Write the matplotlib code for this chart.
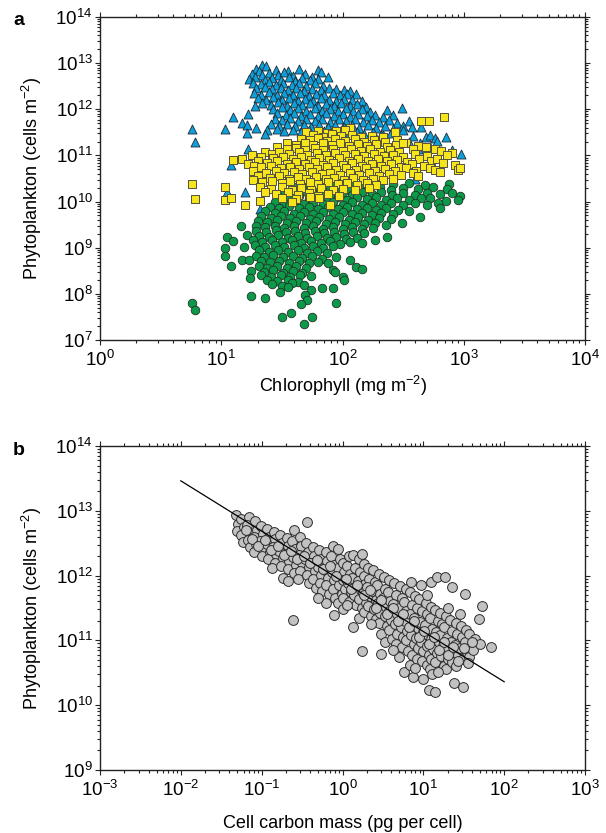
import numpy as np
import matplotlib
matplotlib.use("Agg")
import matplotlib.pyplot as plt
from matplotlib.ticker import LogLocator, LogFormatterSciNotation, NullFormatter

plt.rcParams['font.family'] = ['Liberation Sans', 'DejaVu Sans']
plt.rcParams['mathtext.fontset'] = 'custom'
plt.rcParams['mathtext.rm'] = 'Liberation Sans'
plt.rcParams['mathtext.it'] = 'Liberation Sans:italic'
plt.rcParams['mathtext.bf'] = 'Liberation Sans:bold'

# ---------------------------------------------------------------
# Data, as (log10 x, log10 y) pairs
# ---------------------------------------------------------------
# panel a, triangles: (log10 chlorophyll, log10 cells)
blue_pts = [
    (1.34, 12.96), (1.37, 12.94), (1.29, 12.87), (1.31, 12.83), (1.45, 12.86), (1.55, 12.84),
    (1.64, 12.88), (1.80, 12.85), (1.82, 12.80),
    (1.25, 12.76), (1.34, 12.74), (1.39, 12.79), (1.47, 12.75), (1.52, 12.80), (1.59, 12.73),
    (1.69, 12.77), (1.75, 12.71), (1.88, 12.70),
    (1.23, 12.66), (1.28, 12.69), (1.36, 12.63), (1.42, 12.68), (1.49, 12.64), (1.56, 12.70),
    (1.61, 12.62), (1.67, 12.67), (1.73, 12.63), (1.80, 12.66),
    (1.26, 12.57), (1.33, 12.54), (1.39, 12.59), (1.45, 12.52), (1.51, 12.58), (1.58, 12.53),
    (1.64, 12.57), (1.70, 12.51), (1.77, 12.56), (1.84, 12.50),
    (1.29, 12.46), (1.36, 12.49), (1.42, 12.43), (1.49, 12.47), (1.55, 12.41), (1.62, 12.46),
    (1.68, 12.40), (1.75, 12.45), (1.82, 12.42), (1.89, 12.47), (1.95, 12.45), (2.01, 12.41),
    (2.06, 12.39),
    (1.27, 12.36), (1.33, 12.32), (1.39, 12.37), (1.46, 12.31), (1.52, 12.36), (1.59, 12.30),
    (1.65, 12.35), (1.72, 12.29), (1.78, 12.34), (1.85, 12.30), (1.92, 12.36), (1.98, 12.31),
    (2.04, 12.33), (2.11, 12.34),
    (1.30, 12.25), (1.37, 12.21), (1.43, 12.26), (1.50, 12.20), (1.56, 12.24), (1.63, 12.18),
    (1.69, 12.23), (1.76, 12.19), (1.82, 12.25), (1.89, 12.21), (1.95, 12.17), (2.01, 12.23),
    (2.08, 12.20), (2.16, 12.18),
    (1.34, 12.14), (1.41, 12.10), (1.47, 12.15), (1.54, 12.08), (1.60, 12.13), (1.67, 12.09),
    (1.73, 12.14), (1.80, 12.07), (1.86, 12.12), (1.93, 12.08), (1.99, 12.13), (2.06, 12.07),
    (2.12, 12.11), (2.19, 12.06),
    (1.28, 12.07), (1.43, 12.01), (1.50, 12.04), (1.57, 11.98), (1.63, 12.03), (1.70, 11.97),
    (1.77, 12.02), (1.83, 11.96), (1.90, 12.01), (1.96, 11.97), (2.03, 12.02), (2.09, 11.96),
    (2.16, 12.00), (2.23, 11.95), (2.37, 11.98), (2.49, 12.02),
    (1.22, 11.90), (1.46, 11.91), (1.53, 11.87), (1.60, 11.92), (1.66, 11.86), (1.73, 11.90),
    (1.80, 11.85), (1.86, 11.91), (1.93, 11.86), (2.00, 11.90), (2.06, 11.84), (2.13, 11.89),
    (2.20, 11.85), (2.27, 11.88), (2.33, 11.83), (2.42, 11.87),
    (1.10, 11.84), (1.44, 11.80), (1.50, 11.76), (1.57, 11.81), (1.63, 11.75), (1.70, 11.80),
    (1.77, 11.74), (1.83, 11.79), (1.90, 11.73), (1.97, 11.78), (2.03, 11.74), (2.10, 11.79),
    (2.17, 11.73), (2.24, 11.77), (2.30, 11.72), (2.38, 11.76), (2.45, 11.71), (2.55, 11.74),
    (1.17, 11.70), (1.21, 11.66), (1.41, 11.68), (1.48, 11.64), (1.54, 11.69), (1.61, 11.63),
    (1.68, 11.67), (1.74, 11.62), (1.81, 11.66), (1.88, 11.61), (1.94, 11.67), (2.01, 11.62),
    (2.08, 11.66), (2.14, 11.60), (2.21, 11.65), (2.28, 11.59), (2.35, 11.64), (2.42, 11.58),
    (2.50, 11.63), (2.57, 11.62), (2.65, 11.62),
    (0.76, 11.58), (1.03, 11.58), (1.29, 11.60), (1.38, 11.55), (1.46, 11.58), (1.52, 11.52),
    (1.59, 11.56), (1.66, 11.50), (1.72, 11.55), (1.79, 11.49), (1.85, 11.53), (1.92, 11.48),
    (1.98, 11.52), (2.05, 11.47), (2.12, 11.51), (2.18, 11.46), (2.25, 11.50), (2.32, 11.45),
    (2.40, 11.49), (2.50, 11.55),
    (1.21, 11.48), (1.36, 11.46), (2.33, 11.44), (2.46, 11.40), (2.58, 11.43), (2.69, 11.40),
    (2.72, 11.44), (2.76, 11.38), (2.85, 11.41),
    (0.785, 11.29), (2.55, 11.30), (2.64, 11.26), (2.78, 11.31), (1.22, 11.15), (2.62, 11.15),
    (2.72, 11.18), (2.975, 11.04), (2.90, 11.12),
    (1.08, 10.79), (1.045, 10.21), (1.195, 10.21), (1.47, 10.14), (1.32, 9.84),
    (2.30, 10.55), (2.45, 10.62), (2.60, 10.48),
]

# panel a, squares
yellow_pts = [
    (2.84, 11.84), (2.645, 11.74), (2.71, 11.74), (2.06, 11.60), (2.43, 11.51),
    (1.70, 11.51), (1.80, 11.54), (1.87, 11.49), (1.95, 11.53), (2.02, 11.56),
    (1.76, 11.44), (1.84, 11.41), (1.91, 11.46), (1.99, 11.42), (2.08, 11.45), (2.15, 11.40),
    (2.24, 11.43), (2.33, 11.39),
    (1.66, 11.36), (1.73, 11.33), (1.80, 11.37), (1.87, 11.32), (1.94, 11.36), (2.02, 11.31),
    (2.10, 11.35), (2.18, 11.30), (2.26, 11.34), (2.35, 11.29), (2.45, 11.33), (2.52, 11.27),
    (1.54, 11.26), (1.62, 11.22), (1.69, 11.27), (1.76, 11.23), (1.84, 11.28), (1.91, 11.22),
    (1.98, 11.26), (2.05, 11.21), (2.13, 11.25), (2.20, 11.20), (2.28, 11.24), (2.37, 11.19),
    (2.44, 11.23), (2.50, 11.28), (2.62, 11.21), (2.69, 11.19),
    (1.46, 11.18), (1.54, 11.14), (1.62, 11.17), (1.69, 11.12), (1.77, 11.16), (1.84, 11.11),
    (1.92, 11.15), (2.00, 11.10), (2.07, 11.14), (2.15, 11.09), (2.23, 11.13), (2.31, 11.08),
    (2.39, 11.12), (2.47, 11.07), (2.58, 11.13), (2.76, 11.14), (2.81, 11.10), (2.90, 11.06),
    (1.36, 11.08), (1.42, 11.04), (1.48, 11.08), (1.56, 11.03), (1.64, 11.07), (1.71, 11.02),
    (1.79, 11.06), (1.86, 11.01), (1.94, 11.05), (2.02, 11.00), (2.10, 11.04), (2.18, 10.99),
    (2.26, 11.03), (2.34, 10.98), (2.42, 11.02), (2.50, 10.97), (2.60, 11.03), (2.70, 10.99),
    (2.86, 11.00),
    (1.25, 11.00), (1.33, 10.96), (1.43, 10.94), (1.51, 10.97), (1.59, 10.92), (1.66, 10.96),
    (1.74, 10.91), (1.81, 10.95), (1.89, 10.90), (1.97, 10.94), (2.05, 10.89), (2.13, 10.93),
    (2.21, 10.88), (2.29, 10.92), (2.37, 10.87), (2.45, 10.91), (2.53, 10.86), (2.63, 10.92),
    (2.73, 10.88), (2.78, 10.93),
    (1.10, 10.90), (1.17, 10.93), (1.30, 10.88), (1.38, 10.84), (1.46, 10.87), (1.54, 10.82),
    (1.62, 10.86), (1.69, 10.81), (1.77, 10.85), (1.84, 10.80), (1.92, 10.84), (2.00, 10.79),
    (2.08, 10.83), (2.16, 10.78), (2.24, 10.82), (2.32, 10.77), (2.40, 10.81), (2.48, 10.76),
    (2.57, 10.82), (2.67, 10.78), (2.83, 10.84), (2.93, 10.80),
    (1.22, 10.82), (1.27, 10.78), (1.33, 10.74), (1.41, 10.77), (1.49, 10.72), (1.57, 10.76),
    (1.64, 10.71), (1.72, 10.75), (1.79, 10.70), (1.87, 10.74), (1.95, 10.69), (2.03, 10.73),
    (2.11, 10.68), (2.19, 10.72), (2.27, 10.67), (2.35, 10.71), (2.43, 10.66), (2.52, 10.72),
    (2.61, 10.67), (2.72, 10.73), (2.76, 10.69),
    (1.26, 10.66), (1.37, 10.63), (1.45, 10.66), (1.52, 10.61), (1.60, 10.65), (1.67, 10.60),
    (1.75, 10.64), (1.83, 10.59), (1.90, 10.63), (1.98, 10.58), (2.06, 10.62), (2.14, 10.57),
    (2.22, 10.61), (2.30, 10.56), (2.38, 10.60), (2.48, 10.58), (2.58, 10.62), (2.80, 10.65),
    (2.95, 10.68), (2.97, 10.72),
    (1.30, 10.55), (1.40, 10.52), (1.48, 10.55), (1.56, 10.50), (1.63, 10.54), (1.70, 10.49),
    (1.78, 10.53), (1.86, 10.48), (1.93, 10.52), (2.01, 10.47), (2.09, 10.51), (2.17, 10.46),
    (2.25, 10.50), (2.33, 10.46), (2.42, 10.50), (2.62, 10.55),
    (1.26, 10.46), (1.34, 10.42), (1.42, 10.45), (1.50, 10.40), (1.57, 10.44), (1.65, 10.39),
    (1.73, 10.43), (1.80, 10.38), (1.88, 10.42), (1.96, 10.37), (2.04, 10.41), (2.12, 10.36),
    (2.20, 10.40), (2.28, 10.36),
    (0.76, 10.38), (1.03, 10.32), (1.32, 10.32), (1.41, 10.28), (1.50, 10.31), (1.58, 10.26),
    (1.66, 10.30), (1.74, 10.25), (1.82, 10.29), (1.92, 10.24), (2.00, 10.28), (2.10, 10.25),
    (2.22, 10.30),
    (1.36, 10.20), (1.45, 10.17), (1.55, 10.20), (1.63, 10.14), (1.72, 10.18), (1.80, 10.12),
    (1.88, 10.16), (1.97, 10.13),
    (1.50, 10.08), (1.62, 10.05), (1.73, 10.09), (1.81, 10.07),
    (0.785, 10.05), (1.035, 10.03), (1.08, 10.07), (1.32, 10.01), (1.58, 10.00), (1.90, 9.93),
    (1.195, 9.92),
]

# panel a, circles
green_pts = [
    (1.70, 10.40), (1.82, 10.42), (1.93, 10.38), (2.05, 10.41), (2.18, 10.37), (2.30, 10.42),
    (2.42, 10.38), (2.55, 10.41), (2.68, 10.36), (2.88, 10.38),
    (1.62, 10.31), (1.72, 10.28), (1.81, 10.32), (1.90, 10.27), (1.98, 10.31), (2.06, 10.26),
    (2.14, 10.32), (2.22, 10.27), (2.31, 10.31), (2.40, 10.26), (2.50, 10.30), (2.62, 10.27),
    (2.75, 10.31), (2.86, 10.27),
    (1.52, 10.21), (1.60, 10.18), (1.68, 10.22), (1.76, 10.17), (1.84, 10.21), (1.92, 10.16),
    (2.00, 10.20), (2.08, 10.15), (2.16, 10.21), (2.24, 10.16), (2.32, 10.20), (2.41, 10.15),
    (2.50, 10.19), (2.60, 10.14), (2.70, 10.19), (2.80, 10.16), (2.90, 10.19),
    (1.48, 10.10), (1.56, 10.07), (1.64, 10.11), (1.72, 10.06), (1.80, 10.10), (1.88, 10.05),
    (1.96, 10.09), (2.04, 10.04), (2.12, 10.10), (2.20, 10.05), (2.28, 10.09), (2.36, 10.04),
    (2.45, 10.08), (2.55, 10.03), (2.65, 10.08), (2.72, 10.07), (2.97, 10.11), (2.955, 10.03),
    (2.85, 10.02),
    (1.44, 10.00), (1.52, 9.96), (1.60, 10.00), (1.68, 9.95), (1.76, 9.99), (1.84, 9.94),
    (1.92, 9.98), (2.00, 9.93), (2.08, 9.98), (2.16, 9.93), (2.24, 9.97), (2.32, 9.92),
    (2.40, 9.96), (2.50, 9.92), (2.60, 9.96), (2.70, 9.93), (2.79, 9.96),
    (1.40, 9.89), (1.48, 9.86), (1.56, 9.90), (1.64, 9.85), (1.72, 9.89), (1.80, 9.84),
    (1.88, 9.88), (1.96, 9.83), (2.04, 9.88), (2.12, 9.83), (2.20, 9.87), (2.28, 9.82),
    (2.36, 9.86), (2.46, 9.81), (2.55, 9.80), (2.80, 9.85),
    (1.36, 9.79), (1.44, 9.75), (1.52, 9.79), (1.60, 9.74), (1.68, 9.78), (1.76, 9.73),
    (1.84, 9.77), (1.92, 9.72), (2.00, 9.77), (2.08, 9.72), (2.16, 9.76), (2.24, 9.71),
    (2.32, 9.75), (2.42, 9.72),
    (1.33, 9.68), (1.41, 9.65), (1.49, 9.69), (1.57, 9.64), (1.65, 9.68), (1.73, 9.63),
    (1.81, 9.67), (1.89, 9.62), (1.97, 9.66), (2.05, 9.61), (2.13, 9.66), (2.21, 9.61),
    (2.30, 9.65), (2.40, 9.62), (2.64, 9.67),
    (1.30, 9.58), (1.38, 9.55), (1.46, 9.59), (1.54, 9.54), (1.62, 9.58), (1.70, 9.53),
    (1.78, 9.57), (1.86, 9.52), (1.94, 9.56), (2.02, 9.51), (2.10, 9.56), (2.18, 9.51),
    (2.27, 9.54), (2.36, 9.50), (2.49, 9.53),
    (1.29, 9.47), (1.36, 9.44), (1.44, 9.48), (1.52, 9.43), (1.60, 9.47), (1.68, 9.42),
    (1.76, 9.46), (1.84, 9.41), (1.92, 9.45), (2.00, 9.40), (2.08, 9.45), (2.16, 9.40),
    (2.25, 9.42),
    (1.16, 9.47), (1.29, 9.37), (1.37, 9.34), (1.45, 9.38), (1.53, 9.33), (1.61, 9.37),
    (1.69, 9.32), (1.77, 9.36), (1.85, 9.31), (1.93, 9.35), (2.01, 9.30), (2.09, 9.34),
    (2.18, 9.31),
    (1.21, 9.27), (1.31, 9.26), (1.39, 9.23), (1.47, 9.27), (1.55, 9.22), (1.63, 9.26),
    (1.71, 9.21), (1.79, 9.25), (1.87, 9.20), (1.95, 9.24), (2.03, 9.19), (2.12, 9.22),
    (2.27, 9.17), (2.365, 9.24),
    (1.045, 9.24), (1.10, 9.15), (1.26, 9.16), (1.34, 9.13), (1.42, 9.17), (1.50, 9.12),
    (1.58, 9.16), (1.66, 9.11), (1.74, 9.15), (1.82, 9.10), (1.90, 9.14), (1.98, 9.09),
    (2.06, 9.12), (2.16, 9.10),
    (1.03, 8.99), (1.19, 9.02), (1.28, 9.05), (1.36, 9.02), (1.44, 9.06), (1.52, 9.01),
    (1.60, 9.05), (1.68, 9.00), (1.76, 9.04), (1.84, 8.99), (1.92, 9.03),
    (1.31, 8.94), (1.39, 8.91), (1.47, 8.95), (1.55, 8.90), (1.63, 8.94), (1.71, 8.89),
    (1.79, 8.93), (1.87, 8.88), (1.95, 8.80),
    (1.03, 8.81), (1.29, 8.83), (1.35, 8.80), (1.43, 8.84), (1.51, 8.79), (1.59, 8.83),
    (1.67, 8.78), (1.75, 8.82), (1.83, 8.76),
    (1.17, 8.73), (1.23, 8.73), (2.06, 8.73), (1.33, 8.71), (1.40, 8.68), (1.48, 8.72),
    (1.56, 8.67), (1.64, 8.71), (1.72, 8.66), (1.80, 8.70),
    (1.08, 8.60), (1.31, 8.60), (1.38, 8.57), (1.46, 8.61), (1.54, 8.56), (1.62, 8.60),
    (1.70, 8.56), (1.88, 8.66), (2.11, 8.58),
    (1.245, 8.50), (1.35, 8.48), (1.43, 8.51), (1.51, 8.46), (1.59, 8.50), (1.67, 8.45),
    (1.92, 8.52), (1.94, 8.48), (2.16, 8.53),
    (1.33, 8.40), (1.41, 8.37), (1.49, 8.41), (1.57, 8.36), (1.65, 8.40), (1.74, 8.38),
    (2.00, 8.37), (2.01, 8.30),
    (1.24, 8.34), (1.38, 8.30), (1.46, 8.27), (1.55, 8.31), (1.63, 8.26),
    (1.42, 8.21), (1.50, 8.18), (1.58, 8.23), (1.68, 8.20), (1.55, 8.15), (1.83, 8.12),
    (1.92, 8.12), (1.485, 8.04), (1.74, 8.08),
    (1.245, 7.96), (1.69, 7.98), (1.36, 7.90), (1.71, 7.87), (0.76, 7.81), (1.66, 7.78),
    (1.95, 7.80), (0.785, 7.65), (1.575, 7.58), (1.50, 7.49), (1.75, 7.49), (1.68, 7.34),
]

# panel b, circles: (log10 cell carbon, log10 cells)
grey_pts = [
    (-1.32, 12.93), (-1.29, 12.80), (-1.31, 12.69),
    (-1.25, 12.88), (-1.22, 12.75), (-1.26, 12.62), (-1.23, 12.52),
    (-1.16, 12.91), (-1.18, 12.78), (-1.14, 12.66), (-1.17, 12.55), (-1.15, 12.44),
    (-1.08, 12.84), (-1.06, 12.71), (-1.10, 12.60), (-1.07, 12.49), (-1.09, 12.37),
    (-1.01, 12.76), (-0.98, 12.64), (-1.02, 12.53), (-0.99, 12.42), (-1.00, 12.30),
    (-0.93, 12.72), (-0.91, 12.59), (-0.94, 12.48), (-0.90, 12.37), (-0.92, 12.25),
    (-0.85, 12.68), (-0.83, 12.56), (-0.86, 12.44), (-0.82, 12.33), (-0.84, 12.20), (-0.87, 12.11),
    (-0.77, 12.62), (-0.75, 12.50), (-0.78, 12.38), (-0.74, 12.27), (-0.76, 12.15), (-0.73, 11.96),
    (-0.69, 12.58), (-0.67, 12.46), (-0.70, 12.33), (-0.66, 12.22), (-0.68, 12.10), (-0.675, 11.91),
    (-0.60, 12.70), (-0.62, 12.53), (-0.59, 12.41), (-0.61, 12.29), (-0.58, 12.17), (-0.60, 12.04),
    (-0.61, 11.31),
    (-0.53, 12.60), (-0.51, 12.45), (-0.54, 12.32), (-0.50, 12.19), (-0.52, 12.07), (-0.55, 11.95),
    (-0.44, 12.82), (-0.45, 12.50), (-0.43, 12.37), (-0.46, 12.25), (-0.42, 12.13), (-0.44, 12.01),
    (-0.41, 11.88),
    (-0.37, 12.44), (-0.35, 12.31), (-0.38, 12.19), (-0.34, 12.07), (-0.36, 11.94), (-0.33, 11.81),
    (-0.29, 12.40), (-0.27, 12.26), (-0.30, 12.14), (-0.26, 12.01), (-0.28, 11.89), (-0.25, 11.76),
    (-0.21, 12.36), (-0.19, 12.22), (-0.22, 12.09), (-0.18, 11.97), (-0.20, 11.85), (-0.17, 11.71),
    (-0.21, 11.57),
    (-0.12, 12.45), (-0.14, 12.31), (-0.11, 12.17), (-0.13, 12.05), (-0.10, 11.93), (-0.12, 11.79),
    (-0.09, 11.65), (-0.11, 11.39),
    (-0.05, 12.41), (-0.03, 12.26), (-0.06, 12.12), (-0.02, 11.99), (-0.04, 11.86), (-0.01, 11.72),
    (-0.05, 11.58),
    (0.00, 12.20), (0.02, 12.05), (0.00, 11.93), (0.03, 11.80), (0.01, 11.66), (0.003, 11.48),
    (0.08, 12.30), (0.06, 12.15), (0.09, 12.02), (0.07, 11.88), (0.10, 11.75), (0.08, 11.60),
    (0.13, 12.32), (0.15, 12.12), (0.12, 11.97), (0.16, 11.83), (0.14, 11.70), (0.17, 11.55),
    (0.128, 11.21),
    (0.20, 12.26), (0.22, 12.05), (0.19, 11.92), (0.23, 11.78), (0.21, 11.64), (0.24, 11.50),
    (0.20, 11.35),
    (0.24, 12.34), (0.27, 12.18), (0.26, 12.00), (0.28, 11.87), (0.25, 11.73), (0.29, 11.58),
    (0.27, 11.44), (0.24, 10.84),
    (0.31, 12.12), (0.33, 11.95), (0.30, 11.82), (0.34, 11.68), (0.32, 11.53), (0.35, 11.38),
    (0.38, 12.08), (0.40, 11.90), (0.37, 11.77), (0.41, 11.62), (0.39, 11.48), (0.42, 11.33),
    (0.45, 12.02), (0.43, 11.85), (0.46, 11.72), (0.44, 11.57), (0.47, 11.42), (0.45, 11.27),
    (0.48, 11.10),
    (0.51, 11.98), (0.53, 11.80), (0.50, 11.66), (0.54, 11.52), (0.52, 11.37), (0.55, 11.22),
    (0.52, 10.98), (0.48, 10.79),
    (0.58, 11.93), (0.56, 11.75), (0.59, 11.61), (0.57, 11.46), (0.60, 11.32), (0.58, 11.16),
    (0.61, 11.02),
    (0.64, 11.88), (0.66, 11.70), (0.63, 11.56), (0.67, 11.41), (0.65, 11.26), (0.68, 11.10),
    (0.66, 10.95),
    (0.71, 11.84), (0.73, 11.65), (0.70, 11.50), (0.74, 11.36), (0.72, 11.20), (0.75, 11.05),
    (0.73, 10.90), (0.70, 10.75),
    (0.78, 11.80), (0.76, 11.60), (0.79, 11.45), (0.77, 11.30), (0.80, 11.15), (0.78, 11.00),
    (0.81, 10.84), (0.765, 10.52),
    (0.84, 11.74), (0.86, 11.55), (0.83, 11.40), (0.87, 11.24), (0.85, 11.09), (0.88, 10.94),
    (0.86, 10.78), (0.84, 10.62),
    (0.90, 11.68), (0.92, 11.50), (0.89, 11.35), (0.93, 11.19), (0.91, 11.03), (0.94, 10.88),
    (0.92, 10.72), (0.87, 10.43),
    (0.97, 11.85), (0.95, 11.64), (0.98, 11.45), (0.96, 11.29), (0.99, 11.13), (0.97, 10.98),
    (1.00, 10.83), (0.98, 10.68),
    (1.03, 11.58), (1.05, 11.40), (1.02, 11.24), (1.06, 11.08), (1.04, 10.92), (1.07, 10.77),
    (1.05, 10.62), (1.00, 10.40),
    (1.09, 11.90), (1.10, 11.52), (1.08, 11.35), (1.11, 11.18), (1.09, 11.02), (1.12, 10.86),
    (1.10, 10.71), (1.08, 10.56), (1.07, 10.23),
    (1.17, 11.98), (1.15, 11.47), (1.18, 11.30), (1.16, 11.13), (1.19, 10.97), (1.17, 10.81),
    (1.14, 10.66), (1.11, 10.48), (1.14, 10.21),
    (1.21, 11.42), (1.23, 11.25), (1.20, 11.08), (1.24, 10.92), (1.22, 10.76), (1.25, 10.61),
    (1.27, 11.98), (1.28, 11.37), (1.26, 11.20), (1.29, 11.03), (1.27, 10.87), (1.30, 10.71),
    (1.28, 10.56),
    (1.35, 11.83), (1.33, 11.32), (1.36, 11.15), (1.34, 10.98), (1.37, 10.82), (1.35, 10.66),
    (1.40, 11.27), (1.42, 11.10), (1.39, 10.93), (1.43, 10.77), (1.41, 10.61), (1.38, 10.34),
    (1.46, 11.22), (1.48, 11.05), (1.45, 10.88), (1.49, 10.72), (1.49, 10.28),
    (1.51, 11.72), (1.53, 11.16), (1.51, 10.98), (1.54, 10.82),
    (1.57, 11.10), (1.59, 10.90), (1.56, 10.75),
    (1.64, 11.02), (1.62, 10.85),
    (1.69, 11.33), (1.72, 11.53), (1.70, 10.95), (1.84, 10.90),
    # points sitting between the stacks above
    (-1.20, 12.70), (-1.12, 12.57), (-1.04, 12.45), (-0.96, 12.55), (-0.88, 12.40),
    (-0.80, 12.45), (-0.72, 12.32), (-0.64, 12.38), (-0.56, 12.25), (-0.48, 12.30),
    (-0.40, 12.20), (-0.32, 12.24), (-0.24, 12.10), (-0.16, 12.15), (-0.08, 12.00),
    (0.04, 11.95), (0.11, 11.80), (0.18, 11.85), (0.26, 11.70), (0.34, 11.78),
    (0.41, 11.50), (0.48, 11.62), (0.55, 11.40), (0.62, 11.50), (0.69, 11.30),
    (0.75, 11.40), (0.82, 11.20), (0.88, 11.30), (0.95, 11.05), (1.01, 11.15),
    (1.07, 10.95), (1.13, 11.05), (1.19, 10.85), (1.25, 10.98), (1.31, 10.78),
    (1.37, 10.90), (1.43, 10.68), (1.50, 10.88), (1.55, 10.65), (1.60, 10.97),
    (0.62, 10.85), (0.90, 10.58), (1.18, 10.52), (0.35, 11.25), (0.05, 11.55),
    (-0.30, 11.65), (1.30, 11.50), (1.45, 11.40), (1.05, 11.70), (0.85, 11.90),
]

# regression line in panel b (end points)
fit_carbon = [1e-2, 1e2]
fit_cells = [2.9e13, 2.3e10]


def unlog(pts):
    arr = np.array(pts)
    return 10 ** arr[:, 0], 10 ** arr[:, 1]


def style_axes(ax, xlim, ylim):
    ax.set_xscale('log')
    ax.set_yscale('log')
    ax.set_xlim(*xlim)
    ax.set_ylim(*ylim)
    for axis in (ax.xaxis, ax.yaxis):
        axis.set_major_locator(LogLocator(base=10, numticks=20))
        axis.set_major_formatter(LogFormatterSciNotation())
        axis.set_minor_locator(LogLocator(base=10, subs=np.arange(2, 10), numticks=20))
        axis.set_minor_formatter(NullFormatter())
    ax.tick_params(which='both', direction='out', top=True, right=True,
                   width=0.8, color='#222222')
    ax.tick_params(which='major', length=3.8, labelsize=13.5)
    ax.tick_params(which='minor', length=2.0)
    ax.tick_params(axis='y', which='major', pad=1.5)
    ax.tick_params(axis='x', which='major', pad=3.5)
    for s in ax.spines.values():
        s.set_linewidth(1.0)
        s.set_color('#222222')


fig = plt.figure(figsize=(6.06, 8.33), dpi=100)
W, H = 606, 833
ax_a = fig.add_axes([100 / W, (H - 340) / H, 485 / W, 323 / H])
ax_b = fig.add_axes([100 / W, (H - 770) / H, 485 / W, 324 / H])

# ---- panel a ----
bx, by = unlog(blue_pts)
gx, gy = unlog(green_pts)
yx, yy = unlog(yellow_pts)
ax_a.scatter(bx, by, marker='^', s=42, c='#0ea0da', edgecolors='#1e2a33',
             linewidths=0.6, zorder=2)
ax_a.scatter(gx, gy, marker='o', s=38, c='#0c9a4a', edgecolors='#1f3324',
             linewidths=0.6, zorder=3)
ax_a.scatter(yx, yy, marker='s', s=30, c='#f6e51b', edgecolors='#55513a',
             linewidths=0.7, zorder=4)
style_axes(ax_a, (1, 1e4), (1e7, 1e14))
ax_a.set_xlabel('Chlorophyll (mg m$^{-2}$)', fontsize=13)
ax_a.set_ylabel('Phytoplankton (cells m$^{-2}$)', fontsize=13)
ax_a.xaxis.set_label_coords(0.5, -0.105)
ax_a.yaxis.set_label_coords(-0.115, 0.5)

# ---- panel b ----
cx, cy = unlog(grey_pts)
ax_b.scatter(cx, cy, marker='o', s=50, c='#c2c2c2', edgecolors='#2b2b2b',
             linewidths=0.7, zorder=2)
ax_b.plot(fit_carbon, fit_cells, color='black', lw=0.9, zorder=3)
style_axes(ax_b, (1e-3, 1e3), (1e9, 1e14))
ax_b.set_xlabel('Cell carbon mass (pg per cell)', fontsize=13)
ax_b.set_ylabel('Phytoplankton (cells m$^{-2}$)', fontsize=13)
ax_b.xaxis.set_label_coords(0.5, -0.14)
ax_b.yaxis.set_label_coords(-0.115, 0.5)

fig.text(13 / W, 1 - 25 / H, 'a', fontsize=14, fontweight='bold', va='baseline')
fig.text(13 / W, 1 - 455 / H, 'b', fontsize=14, fontweight='bold', va='baseline')

fig.savefig('out.png', dpi=100)
